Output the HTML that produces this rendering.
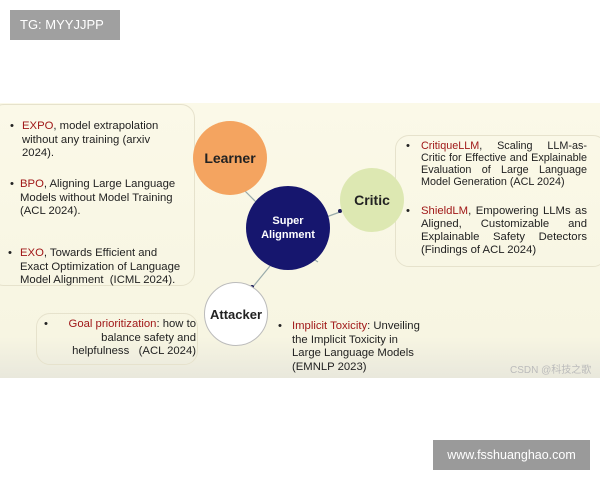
<!DOCTYPE html><html><head><style>
body{margin:0;width:600px;height:480px;background:#fff;position:relative;overflow:hidden;font-family:"Liberation Sans",sans-serif}
.s{position:absolute;left:0;top:103px;width:600px;height:275px;background:linear-gradient(#fbf9e8,#f7f5e2 85%,#e9e8dc)}
.t{position:absolute;font-size:11.3px;line-height:13.5px;color:#222}
.r{color:#a01818}
.b{position:absolute;font-size:11px}
.c{position:absolute;border-radius:50%;display:flex;align-items:center;justify-content:center;font-weight:bold;color:#222}
.box{position:absolute;border:1px solid #e6e2cc;border-radius:14px}
</style></head><body>
<div style="position:absolute;left:10px;top:10px;width:110px;height:30px;background:#a0a0a0;color:#fff;font-size:13px;line-height:30px;padding-left:10px;box-sizing:border-box">TG: MYYJJPP</div>
<div class="s"></div>
<div class="box" style="left:-10px;top:104px;width:203px;height:180px"></div>
<div class="box" style="left:36px;top:313px;width:160px;height:50px"></div>
<div class="box" style="left:395px;top:135px;width:210px;height:130px"></div>
<div class="t" style="left:10px;top:120px">•</div>
<div class="t" style="left:22px;top:120px;width:175px"><span class="r">EXPO</span>, model extrapolation<br>without any training (arxiv<br>2024).</div>
<div class="t" style="left:10px;top:178px">•</div>
<div class="t" style="left:20px;top:178px;width:175px"><span class="r">BPO</span>, Aligning Large Language<br>Models without Model Training<br>(ACL 2024).</div>
<div class="t" style="left:8px;top:247px">•</div>
<div class="t" style="left:20px;top:247px;width:175px"><span class="r">EXO</span>, Towards Efficient and<br>Exact Optimization of Language<br>Model Alignment &nbsp;(ICML 2024).</div>
<div class="t" style="left:44px;top:318px">•</div>
<div class="t" style="left:58px;top:318px;width:138px;text-align:right"><span class="r">Goal prioritization</span>: how to<br>balance safety and<br>helpfulness &nbsp;&nbsp;(ACL 2024)</div>
<div class="t" style="left:278px;top:320px">•</div>
<div class="t" style="left:292px;top:320px;width:160px"><span class="r">Implicit Toxicity</span>: Unveiling<br>the Implicit Toxicity in<br>Large Language Models<br>(EMNLP 2023)</div>
<div class="t" style="left:406px;top:140px">•</div>
<div class="t" style="left:421px;top:140px;width:166px;text-align:justify;text-align-last:left;line-height:12px;font-size:10.8px"><span class="r">CritiqueLLM</span>, Scaling LLM-as-Critic for Effective and Explainable Evaluation of Large Language Model Generation (ACL 2024)</div>
<div class="t" style="left:406px;top:205px">•</div>
<div class="t" style="left:421px;top:205px;width:166px;text-align:justify;text-align-last:left;line-height:13px"><span class="r">ShieldLM</span>, Empowering LLMs as Aligned, Customizable and Explainable Safety Detectors (Findings of ACL 2024)</div>
<svg style="position:absolute;left:0;top:0" width="600" height="480"><g stroke="#9aa" stroke-width="1.2">
<line x1="240" y1="186" x2="258" y2="204"/><line x1="340" y1="212" x2="318" y2="220"/><line x1="270" y1="266" x2="252" y2="288"/><line x1="312" y1="258" x2="318" y2="262"/></g>
<g fill="#1a1a5a"><circle cx="240" cy="186" r="2"/><circle cx="340" cy="211" r="2"/><circle cx="252" cy="287" r="2"/></g></svg>
<div class="c" style="left:193px;top:121px;width:74px;height:74px;background:#f4a460;font-size:14px">Learner</div>
<div class="c" style="left:246px;top:186px;width:84px;height:84px;background:#16166e;color:#fff;font-size:11px;text-align:center;line-height:14px">Super<br>Alignment</div>
<div class="c" style="left:340px;top:168px;width:64px;height:64px;background:#dde8b2;font-size:14px">Critic</div>
<div class="c" style="left:204px;top:282px;width:64px;height:64px;background:#fff;border:1px solid #bbb;font-size:13px;box-sizing:border-box">Attacker</div>
<div style="position:absolute;left:510px;top:361px;font-size:10px;color:#bbb">CSDN @科技之歌</div>
<div style="position:absolute;left:433px;top:440px;width:157px;height:30px;background:#9a9a9a;color:#fff;font-size:12.5px;line-height:30px;text-align:center">www.fsshuanghao.com</div>
</body></html>
